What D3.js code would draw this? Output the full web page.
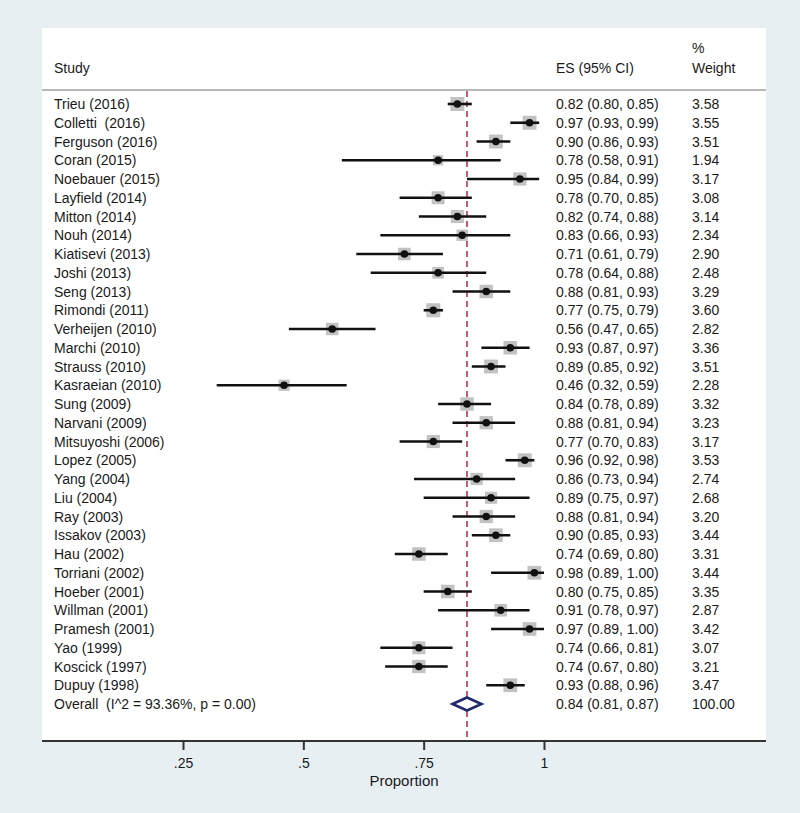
<!DOCTYPE html>
<html>
<head>
<meta charset="utf-8">
<script src="https://cdn.jsdelivr.net/npm/d3@7"></script>
<style>
  html, body { margin: 0; padding: 0; background: #e8eff3; }
  svg text { font-family: "Liberation Sans", Arial, sans-serif; fill: #1a1a1a; white-space: pre; }
</style>
</head>
<body>
<svg id="chart" width="800" height="813"></svg>
<script>
const studies = ["Trieu (2016)","Colletti  (2016)","Ferguson (2016)","Coran (2015)","Noebauer (2015)",
  "Layfield (2014)","Mitton (2014)","Nouh (2014)","Kiatisevi (2013)","Joshi (2013)","Seng (2013)",
  "Rimondi (2011)","Verheijen (2010)","Marchi (2010)","Strauss (2010)","Kasraeian (2010)","Sung (2009)",
  "Narvani (2009)","Mitsuyoshi (2006)","Lopez (2005)","Yang (2004)","Liu (2004)","Ray (2003)",
  "Issakov (2003)","Hau (2002)","Torriani (2002)","Hoeber (2001)","Willman (2001)","Pramesh (2001)",
  "Yao (1999)","Koscick (1997)","Dupuy (1998)"];
const es  = [0.82,0.97,0.90,0.78,0.95,0.78,0.82,0.83,0.71,0.78,0.88,0.77,0.56,0.93,0.89,0.46,0.84,0.88,0.77,0.96,0.86,0.89,0.88,0.90,0.74,0.98,0.80,0.91,0.97,0.74,0.74,0.93];
const lo  = [0.80,0.93,0.86,0.58,0.84,0.70,0.74,0.66,0.61,0.64,0.81,0.75,0.47,0.87,0.85,0.32,0.78,0.81,0.70,0.92,0.73,0.75,0.81,0.85,0.69,0.89,0.75,0.78,0.89,0.66,0.67,0.88];
const hi  = [0.85,0.99,0.93,0.91,0.99,0.85,0.88,0.93,0.79,0.88,0.93,0.79,0.65,0.97,0.92,0.59,0.89,0.94,0.83,0.98,0.94,0.97,0.94,0.93,0.80,1.00,0.85,0.97,1.00,0.81,0.80,0.96];
const weights = [3.58,3.55,3.51,1.94,3.17,3.08,3.14,2.34,2.90,2.48,3.29,3.60,2.82,3.36,3.51,2.28,3.32,3.23,3.17,3.53,2.74,2.68,3.20,3.44,3.31,3.44,3.35,2.87,3.42,3.07,3.21,3.47];
const overallLabel = "Overall  (I^2 = 93.36%, p = 0.00)";
const overall = { es: 0.84, lo: 0.81, hi: 0.87, weight: "100.00" };
const tickValues = [0.25, 0.5, 0.75, 1];
const tickLabels = [".25", ".5", ".75", "1"];
const axisTitle = "Proportion";

const svg = d3.select("#chart");
const panel = { left: 42, right: 766, top: 28, bottom: 741 };

svg.append("rect").attr("x", panel.left).attr("y", panel.top)
  .attr("width", panel.right - panel.left).attr("height", panel.bottom - panel.top)
  .attr("fill", "#ffffff");

const x = d3.scaleLinear().domain([0.25, 1]).range([183, 544]);
const nRows = studies.length + 1;
const y = d3.scalePoint().domain(d3.range(nRows)).range([104, 704]);

// header
const hdr = svg.append("g").style("font-size", "14px");
hdr.append("text").attr("x", 54).attr("y", 73).text("Study");
hdr.append("text").attr("x", 556).attr("y", 73).text("ES (95% CI)");
hdr.append("text").attr("x", 692).attr("y", 53).text("%");
hdr.append("text").attr("x", 692).attr("y", 73).text("Weight");
svg.append("line").attr("x1", panel.left).attr("x2", panel.right).attr("y1", 90).attr("y2", 90)
  .attr("stroke", "#b8b8b8").attr("stroke-width", 2);

// reference line at overall
svg.append("line").attr("x1", x(overall.es)).attr("x2", x(overall.es))
  .attr("y1", 91).attr("y2", panel.bottom)
  .attr("stroke", "#b5374a").attr("stroke-width", 1.6).attr("stroke-dasharray", "6,4");

// rows
const rows = svg.append("g").selectAll("g").data(studies).join("g");
rows.append("rect")
  .attr("x", (d, i) => x(es[i]) - 3.7 * Math.sqrt(weights[i]))
  .attr("y", (d, i) => y(i) - 3.7 * Math.sqrt(weights[i]))
  .attr("width", (d, i) => 7.4 * Math.sqrt(weights[i]))
  .attr("height", (d, i) => 7.4 * Math.sqrt(weights[i]))
  .attr("fill", "#c2c2c2");
rows.append("line")
  .attr("x1", (d, i) => x(lo[i])).attr("x2", (d, i) => x(hi[i]))
  .attr("y1", (d, i) => y(i)).attr("y2", (d, i) => y(i))
  .attr("stroke", "#111").attr("stroke-width", 2.6);
rows.append("circle")
  .attr("cx", (d, i) => x(es[i])).attr("cy", (d, i) => y(i)).attr("r", 3.8)
  .attr("fill", "#111");
rows.append("text").attr("x", 54).attr("y", (d, i) => y(i) + 5).style("font-size", "14px").text(d => d);
rows.append("text").attr("x", 556).attr("y", (d, i) => y(i) + 5).style("font-size", "14px")
  .text((d, i) => `${es[i].toFixed(2)} (${lo[i].toFixed(2)}, ${hi[i].toFixed(2)})`);
rows.append("text").attr("x", 692).attr("y", (d, i) => y(i) + 5).style("font-size", "14px")
  .text((d, i) => weights[i].toFixed(2));

// overall
const oy = y(nRows - 1);
svg.append("path")
  .attr("d", `M${x(overall.lo)},${oy} L${x(overall.es)},${oy - 6.5} L${x(overall.hi)},${oy} L${x(overall.es)},${oy + 6.5} Z`)
  .attr("fill", "#fff").attr("stroke", "#1f2a6e").attr("stroke-width", 2.6);
svg.append("text").attr("x", 54).attr("y", oy + 5).style("font-size", "14px").text(overallLabel);
svg.append("text").attr("x", 556).attr("y", oy + 5).style("font-size", "14px")
  .text(`${overall.es.toFixed(2)} (${overall.lo.toFixed(2)}, ${overall.hi.toFixed(2)})`);
svg.append("text").attr("x", 692).attr("y", oy + 5).style("font-size", "14px").text(overall.weight);

// axis
const axis = d3.axisBottom(x).tickValues(tickValues)
  .tickFormat((d, i) => tickLabels[i]).tickSize(9).tickPadding(8);
const ag = svg.append("g").attr("transform", `translate(0,${panel.bottom})`).call(axis);
ag.select(".domain").remove();
ag.selectAll(".tick line").attr("stroke", "#333").attr("stroke-width", 2);
ag.selectAll(".tick text").style("font-size", "14px").style("font-family", "Liberation Sans, Arial, sans-serif").attr("fill", "#1a1a1a");
svg.append("line").attr("x1", panel.left).attr("x2", panel.right).attr("y1", panel.bottom).attr("y2", panel.bottom)
  .attr("stroke", "#333").attr("stroke-width", 2);
svg.append("text").attr("x", 404).attr("y", 786).attr("text-anchor", "middle")
  .style("font-size", "15px").text(axisTitle);
</script>
</body>
</html>
